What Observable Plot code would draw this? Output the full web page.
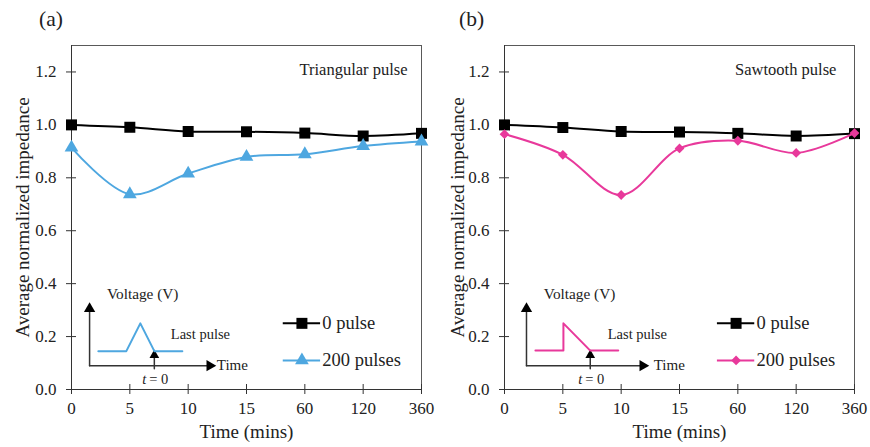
<!DOCTYPE html>
<html><head><meta charset="utf-8">
<script src="https://cdn.jsdelivr.net/npm/d3@7"></script>
<script src="https://cdn.jsdelivr.net/npm/@observablehq/plot@0.6"></script>
<style>
body{margin:0;background:#fff;font-family:"Liberation Serif","Times New Roman",serif;color:#222;}
#wrap{position:relative;width:870px;height:447px;overflow:hidden;}
.panel{position:absolute;top:0;}
.tag{position:absolute;top:9px;font-size:21.5px;line-height:1;}
</style></head><body><div id="wrap"></div>
<script>
// ---- data ----
const timeLabels = ["0", "5", "10", "15", "60", "120", "360"];
const yTicks = [0, 0.2, 0.4, 0.6, 0.8, 1.0, 1.2];
const control0 = [1.000, 0.991, 0.975, 0.974, 0.969, 0.958, 0.968];   // 0 pulse (a)
const triangular200 = [0.914, 0.738, 0.816, 0.879, 0.889, 0.920, 0.937]; // 200 pulses (a)
const control0b = [1.000, 0.990, 0.975, 0.973, 0.968, 0.958, 0.967];  // 0 pulse (b)
const sawtooth200 = [0.965, 0.887, 0.735, 0.911, 0.940, 0.894, 0.969];  // 200 pulses (b)
const seriesNames = ["0 pulse", "200 pulses"];
const panelTitles = ["Triangular pulse", "Sawtooth pulse"];
// inset pulse shapes (x in category index units, y in impedance units)
const triPulseX = [0.46, 0.94, 1.18, 1.42, 1.90];
const triPulseY = [0.145, 0.145, 0.25, 0.145, 0.145];
const sawPulseX = [0.53, 1.01, 1.01, 1.47, 1.95];
const sawPulseY = [0.147, 0.147, 0.25, 0.147, 0.147];

const BLUE = "#4ea7e0", PINK = "#e8399b", AX = "#333";

function panel(cfg) {
  const idx = d3.range(timeLabels.length);
  const ctrl = idx.map(i => ({x: i, y: cfg.control[i]}));
  const trt = idx.map(i => ({x: i, y: cfg.treated[i]}));
  const pulse = cfg.pulseX.map((x, i) => ({x, y: cfg.pulseY[i]}));
  const ax0 = cfg.insetX, base = 0.09;
  const arrX = pulse[3].x;
  const L = cfg.legendX;
  const leg0 = [{name: seriesNames[0], y: 0.25}];
  const leg1 = [{name: seriesNames[1], y: 0.11}];
  const markerOpts = {x: "x", y: "y", symbol: cfg.symbol, r: cfg.r, rotate: cfg.rot, fill: cfg.color, stroke: null};
  return Plot.plot({
    width: 435, height: 447,
    marginLeft: cfg.ml, marginRight: 435 - cfg.ml - 350, marginTop: 45, marginBottom: 58,
    style: {fontFamily: "'Liberation Serif','Times New Roman',serif", fontSize: "17px", color: "#222", background: "transparent"},
    x: {type: "linear", domain: [0, 6]},
    y: {domain: [0, 1.3]},
    marks: [
      Plot.frame({stroke: "#595959"}),
      Plot.axisY({ticks: yTicks, tickSize: 10, dx: 5, fill: "none", label: null, stroke: AX}),
      Plot.axisY({ticks: yTicks, tickSize: 0, tickPadding: 15, tickFormat: d => d.toFixed(1), label: null, fontSize: 17}),
      Plot.axisX({ticks: idx, tickSize: 10, dy: -5, fill: "none", label: null, stroke: AX}),
      Plot.axisX({ticks: idx, tickSize: 0, tickPadding: 12, tickFormat: i => timeLabels[i], label: null, fontSize: 17}),
      Plot.ruleY([0], {stroke: AX}),
      Plot.ruleX([0], {stroke: AX}),
      Plot.text(["Average normalized impedance"], {text: d => d, frameAnchor: "left", textAnchor: "middle", dx: -cfg.ml + 22, rotate: -90, fontSize: 19}),
      Plot.text(["Time (mins)"], {text: d => d, frameAnchor: "bottom", dy: 48, fontSize: 19}),
      Plot.text([cfg.title], {text: d => d, x: cfg.titleX, y: 1.21, textAnchor: "end", fontSize: 16.5}),
      // inset: voltage diagram
      Plot.line([{x: ax0, y: base}, {x: ax0, y: 0.30}], {x: "x", y: "y", stroke: AX, strokeWidth: 1.5}),
      Plot.line([{x: ax0, y: base}, {x: 2.36, y: base}], {x: "x", y: "y", stroke: AX, strokeWidth: 1.5}),
      Plot.dot([{x: ax0, y: 0.305}], {x: "x", y: "y", symbol: "triangle", r: 4.2, fill: "black", stroke: null}),
      Plot.dot([{x: 2.37, y: base}], {x: "x", y: "y", symbol: "triangle", rotate: 90, r: 4.2, fill: "black", stroke: null}),
      Plot.line([{x: arrX, y: 0.078}, {x: arrX, y: 0.128}], {x: "x", y: "y", stroke: AX, strokeWidth: 1.5}),
      Plot.dot([{x: arrX, y: 0.13}], {x: "x", y: "y", symbol: "triangle", r: 3.6, fill: "black", stroke: null}),
      Plot.line(pulse, {x: "x", y: "y", stroke: cfg.color, strokeWidth: 2}),
      Plot.text(["Voltage (V)"], {text: d => d, x: ax0 + 0.91, y: 0.362, fontSize: 15.3}),
      Plot.text(["Last pulse"], {text: d => d, x: ax0 + 1.9, y: 0.21, fontSize: 14.5}),
      Plot.text(["Time"], {text: d => d, x: ax0 + 2.18, y: base, textAnchor: "start", fontSize: 15}),
      Plot.text(["t"], {text: d => d, x: arrX, y: 0.04, dx: -10, fontSize: 14.5, fontStyle: "italic"}),
      Plot.text(["= 0"], {text: d => d, x: arrX, y: 0.04, dx: 4.5, fontSize: 14.5}),
      // series
      Plot.line(ctrl, {x: "x", y: "y", curve: "catmull-rom", stroke: "black", strokeWidth: 2}),
      Plot.dot(ctrl, {x: "x", y: "y", symbol: "square", r: 6.2, fill: "black", stroke: null}),
      Plot.line(trt, {x: "x", y: "y", curve: "catmull-rom", stroke: cfg.color, strokeWidth: 2}),
      Plot.dot(trt, markerOpts),
      // legend
      Plot.ruleY(leg0, {y: "y", x1: L, x2: L + 0.64, stroke: "black", strokeWidth: 2}),
      Plot.dot(leg0, {x: L + 0.32, y: "y", symbol: "square", r: 6.2, fill: "black", stroke: null}),
      Plot.ruleY(leg1, {y: "y", x1: L, x2: L + 0.64, stroke: cfg.color, strokeWidth: 2}),
      Plot.dot(leg1, {...markerOpts, x: L + 0.32}),
      Plot.text([...leg0, ...leg1], {x: L + 0.67, y: "y", text: "name", textAnchor: "start", fontSize: 18.5})
    ]
  });
}

const wrap = document.getElementById("wrap");
const cfgs = [
  {left: 0, ml: 71, control: control0, treated: triangular200, color: BLUE, symbol: "triangle", r: 5.1, rot: 0,
   pulseX: triPulseX, pulseY: triPulseY, insetX: 0.31, title: panelTitles[0], titleX: 5.76, legendX: 3.63, tag: "(a)", tagX: 39},
  {left: 435, ml: 69, control: control0b, treated: sawtooth200, color: PINK, symbol: "square", r: 3.9, rot: 45,
   pulseX: sawPulseX, pulseY: sawPulseY, insetX: 0.377, title: panelTitles[1], titleX: 5.69, legendX: 3.65, tag: "(b)", tagX: 459}
];
for (const c of cfgs) {
  const div = document.createElement("div");
  div.className = "panel";
  div.style.left = c.left + "px";
  const p = panel(c);
  p.style.display = "block";
  div.appendChild(p);
  wrap.appendChild(div);
  const t = document.createElement("div");
  t.className = "tag";
  t.style.left = c.tagX + "px";
  t.textContent = c.tag;
  wrap.appendChild(t);
}
</script></body></html>
